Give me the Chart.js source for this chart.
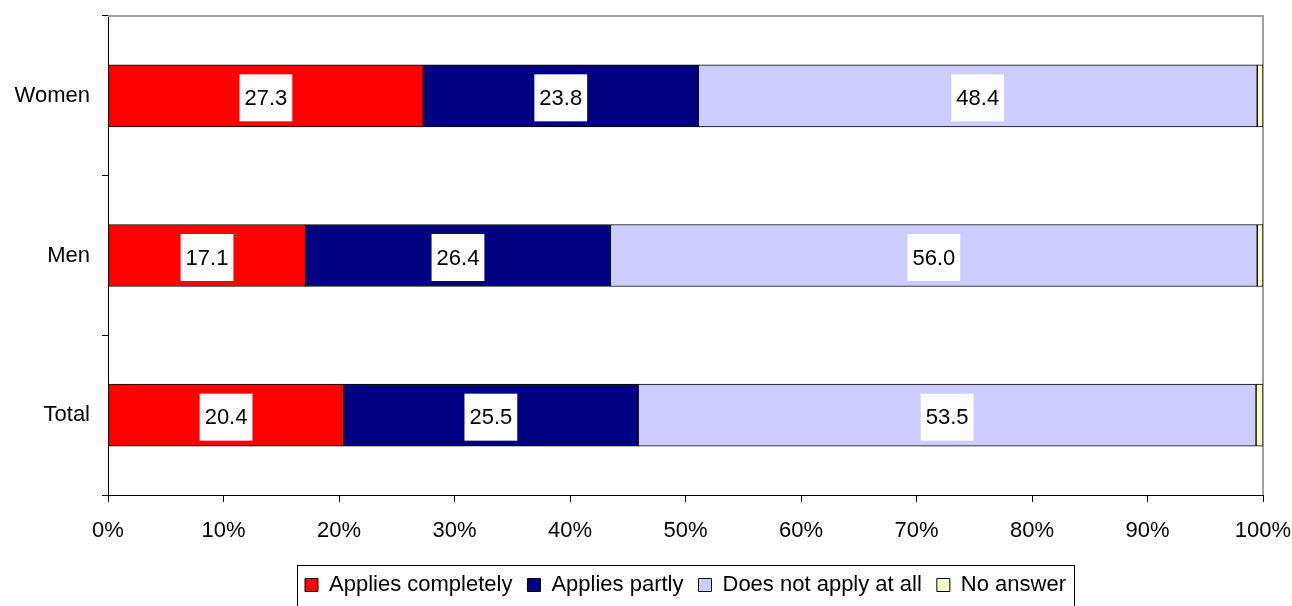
<!DOCTYPE html>
<html>
<head>
<meta charset="utf-8">
<title>Applies completely / partly</title>
<script src="https://cdn.jsdelivr.net/npm/chart.js@4"></script>
<style>
    body { margin: 0; background: #fff; }
</style>
</head>
<body>
<canvas id="answersChart" width="1292" height="606"></canvas>
<script>
// Data
const groups = ['Women', 'Men', 'Total'];
const appliesCompletely = [27.3, 17.1, 20.4];
const appliesPartly = [23.8, 26.4, 25.5];
const doesNotApply = [48.4, 56.0, 53.5];
const noAnswer = [0.5, 0.5, 0.6];
const xTicks = [0, 10, 20, 30, 40, 50, 60, 70, 80, 90, 100];

const FONT = 'Liberation Sans, Arial, sans-serif';

// white boxes with the value in the middle of each segment
const valueBoxes = {
    id: 'valueBoxes',
    afterDatasetsDraw(chart) {
        const ctx = chart.ctx;
        ctx.save();
        ctx.font = '22px ' + FONT;
        ctx.textAlign = 'center';
        ctx.textBaseline = 'middle';
        chart.data.datasets.forEach((ds, i) => {
            if (!ds.showValues) return;
            chart.getDatasetMeta(i).data.forEach((bar, j) => {
                const text = ds.data[j].toFixed(1);
                const cx = (bar.x + bar.base) / 2;
                const w = ctx.measureText(text).width + 10;
                const h = 47;
                ctx.fillStyle = '#fff';
                ctx.fillRect(cx - w / 2, bar.y - h / 2 + 2, w, h);
                ctx.fillStyle = '#000';
                ctx.fillText(text, cx, bar.y + 3);
            });
        });
        ctx.restore();
    }
};

// gray edge at the top and right of the plot, legend centred under the plot with a box round it
const frame = {
    id: 'frame',
    afterLayout(chart) {
        // the legend plugin places its hit boxes afterwards, from these values
        const a = chart.chartArea;
        const legend = chart.legend;
        legend.left = a.left;
        legend.right = a.right;
        legend.width = a.right - a.left;
    },
    beforeDatasetsDraw(chart) {
        const a = chart.chartArea;
        const ctx = chart.ctx;
        ctx.save();
        ctx.strokeStyle = '#a0a0a0';
        ctx.lineWidth = 2;
        ctx.beginPath();
        ctx.moveTo(a.left, a.top);
        ctx.lineTo(a.right, a.top);
        ctx.lineTo(a.right, a.bottom);
        ctx.stroke();
        ctx.restore();
    },
    afterDraw(chart) {
        const boxes = chart.legend.legendHitBoxes;
        if (!boxes || !boxes.length) return;
        const left = Math.min(...boxes.map(b => b.left)) - 8;
        const right = Math.max(...boxes.map(b => b.left + b.width)) + 8;
        const top = boxes[0].top - 9;
        const ctx = chart.ctx;
        ctx.save();
        ctx.strokeStyle = '#000';
        ctx.lineWidth = 1;
        ctx.strokeRect(left + 0.5, top + 0.5, right - left, 60);
        ctx.restore();
    }
};

const noEdgePadding = scale => {
    scale.paddingLeft = 0;
    scale.paddingRight = 0;
    scale.paddingTop = 0;
    scale.paddingBottom = 0;
};

const ctx = document.getElementById('answersChart').getContext('2d');
const answersChart = new Chart(ctx, {
    type: 'bar',
    data: {
        labels: groups,
        datasets: [
            { label: 'Applies completely', data: appliesCompletely, backgroundColor: '#ff0000', showValues: true },
            { label: 'Applies partly', data: appliesPartly, backgroundColor: '#000080', showValues: true },
            { label: 'Does not apply at all', data: doesNotApply, backgroundColor: '#ccccff', showValues: true },
            { label: 'No answer', data: noAnswer, backgroundColor: '#ffffcc', showValues: false }
        ].map(ds => Object.assign(ds, {
            borderColor: '#000',
            borderWidth: 1,
            borderSkipped: false,
            barThickness: 62
        }))
    },
    options: {
        indexAxis: 'y',
        responsive: false,
        animation: false,
        layout: { padding: { top: 16, right: 29, left: 0, bottom: 0 } },
        scales: {
            x: {
                stacked: true,
                min: 0,
                max: 100,
                afterBuildTicks: scale => { scale.ticks = xTicks.map(v => ({ value: v })); },
                afterFit: scale => { scale.height = 64; noEdgePadding(scale); },
                grid: { drawOnChartArea: false, tickLength: 7, color: '#000' },
                border: { color: '#000', width: 1 },
                ticks: {
                    color: '#000',
                    padding: 16,
                    font: { family: FONT, size: 22 },
                    maxRotation: 0,
                    callback: v => v + '%'
                }
            },
            y: {
                stacked: true,
                afterFit: scale => { scale.width = 108; noEdgePadding(scale); },
                grid: { drawOnChartArea: false, tickLength: 6, color: '#000', offset: true },
                border: { color: '#000', width: 1 },
                ticks: {
                    color: '#000',
                    padding: 12,
                    font: { family: FONT, size: 22 }
                }
            }
        },
        plugins: {
            legend: {
                position: 'bottom',
                labels: {
                    color: '#000',
                    boxWidth: 13,
                    boxHeight: 13,
                    padding: 15,
                    font: { family: FONT, size: 22 }
                }
            },
            tooltip: { enabled: false }
        }
    },
    plugins: [valueBoxes, frame]
});
</script>
</body>
</html>
